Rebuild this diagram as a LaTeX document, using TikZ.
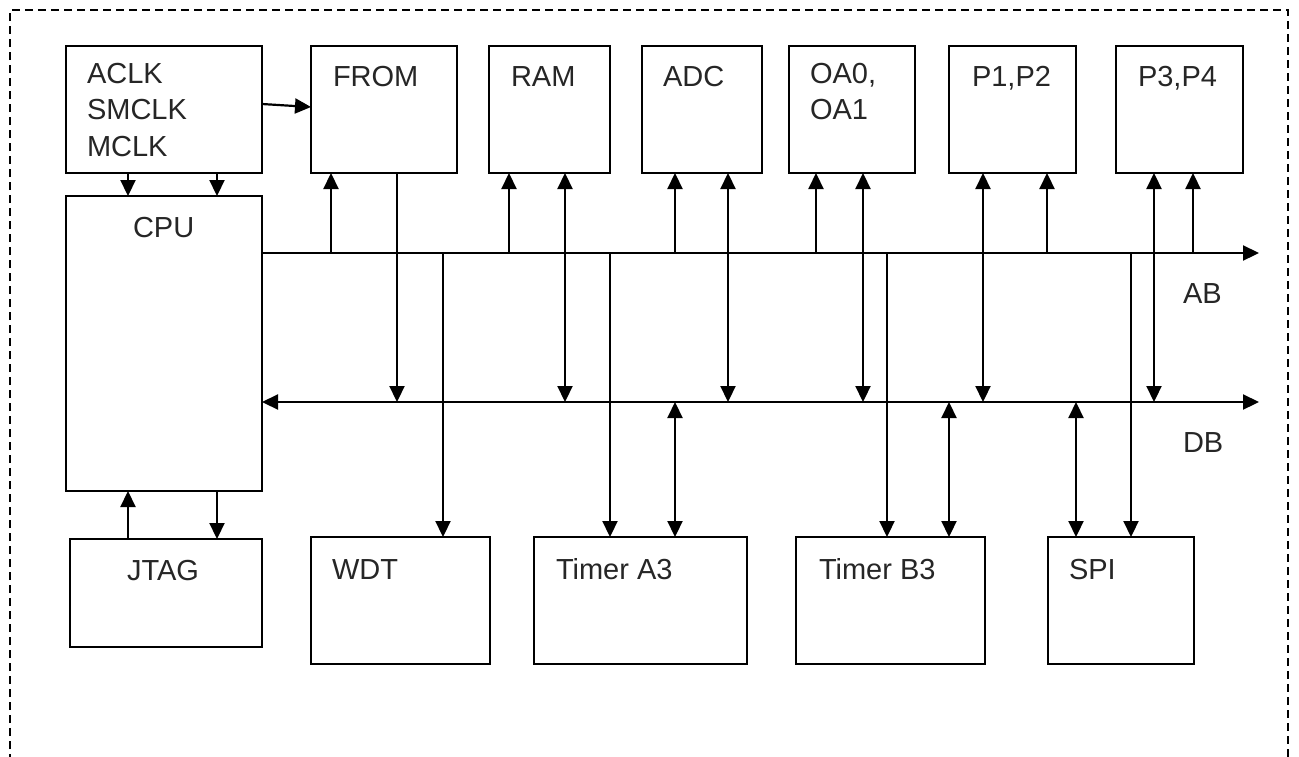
\documentclass[tikz,border=0pt]{standalone}
\usepackage{fontspec}
\setmainfont{Liberation Sans}
\usetikzlibrary{arrows.meta}
\tikzset{
  box/.style={draw, line width=1.7pt, inner sep=0pt, outer sep=0pt, anchor=north west},
  lbl/.style={inner sep=0pt, outer sep=0pt, anchor=base west, text=black!85, font=\fontsize{29}{36.5}\selectfont},
  tip/.tip={Triangle[length=16pt,width=15pt]},
  conn/.style={line width=2.2pt, -tip},
  bid/.style={line width=2.2pt, tip-tip},
  frame/.style={dash pattern=on 8pt off 5pt, line width=1.5pt}
}
\newcommand{\bx}[5]{\node[box, minimum width=#4pt-#2pt, minimum height=#5pt-#3pt] (#1) at (#2,#3) {};}
\newcommand{\vc}[4]{\draw[#1] (#2 -| #4,0) -- (#3 -| #4,0);}
\begin{document}
\begin{tikzpicture}[x=1pt,y=-1pt]
\useasboundingbox (0,0) rectangle (1299,756);
\fill[white] (0,0) rectangle (1299,756);
\draw[frame] (10,775) -- (10,10) -- (1288,10) -- (1288,775);
% boxes
\bx{clk}{66}{46}{262}{173}
\bx{cpu}{66}{196}{262}{491}
\bx{from}{311}{46}{457}{173}
\bx{ram}{489}{46}{610}{173}
\bx{adc}{642}{46}{762}{173}
\bx{oa}{789}{46}{915}{173}
\bx{p12}{949}{46}{1076}{173}
\bx{p34}{1116}{46}{1243}{173}
\bx{jtag}{70}{539}{262}{647}
\bx{wdt}{311}{537}{490}{664}
\bx{ta}{534}{537}{747}{664}
\bx{tb}{796}{537}{985}{664}
\bx{spi}{1048}{537}{1194}{664}
% labels
\node[lbl, anchor=north west, align=left] (clkT) at (87,63) {ACLK\\SMCLK\\MCLK};
\node[lbl] (fromT) at (333,86) {FROM};
\node[lbl] (cpuT) at (133,237) {CPU};
\node[lbl] (ramT) at (511,86) {RAM};
\node[lbl] (adcT) at (663,86) {ADC};
\node[lbl, anchor=north west, align=left] (oaT) at (810,63) {OA0,\\OA1};
\node[lbl] (p12T) at (972,86) {P1,P2};
\node[lbl] (p34T) at (1138,86) {P3,P4};
\node[lbl] (jtagT) at (127,580) {JTAG};
\node[lbl] (wdtT) at (332,579) {WDT};
\node[lbl] (taT) at (556,579) {Timer A3};
\node[lbl] (tbT) at (819,579) {Timer B3};
\node[lbl] (spiT) at (1069,579) {SPI};
\node[lbl] (abT) at (1183,303) {AB};
\node[lbl] (dbT) at (1183,452) {DB};
% buses
\coordinate (abR) at (1259,253);
\coordinate (dbR) at (1259,402);
\draw[conn] (cpu.east |- abR) -- (abR);
\draw[bid] (cpu.east |- dbR) -- (dbR);
% connectors
\draw[conn] (clk.east |- 0,104) -- (from.west |- 0,107);
\vc{conn}{clk.south}{cpu.north}{128}
\vc{conn}{clk.south}{cpu.north}{217}
\vc{conn}{jtag.north}{cpu.south}{128}
\vc{conn}{cpu.south}{jtag.north}{217}
\vc{conn}{abR}{from.south}{331}
\vc{conn}{from.south}{dbR}{397}
\vc{conn}{abR}{wdt.north}{443}
\vc{conn}{abR}{ram.south}{509}
\vc{bid}{ram.south}{dbR}{565}
\vc{conn}{abR}{ta.north}{610}
\vc{conn}{abR}{adc.south}{675}
\vc{bid}{adc.south}{dbR}{728}
\vc{bid}{dbR}{ta.north}{675}
\vc{conn}{abR}{oa.south}{816}
\vc{bid}{oa.south}{dbR}{863}
\vc{conn}{abR}{tb.north}{887}
\vc{bid}{dbR}{tb.north}{949}
\vc{bid}{p12.south}{dbR}{983}
\vc{conn}{abR}{p12.south}{1047}
\vc{bid}{dbR}{spi.north}{1076}
\vc{conn}{abR}{spi.north}{1131}
\vc{bid}{p34.south}{dbR}{1154}
\vc{conn}{abR}{p34.south}{1193}
\end{tikzpicture}
\end{document}
